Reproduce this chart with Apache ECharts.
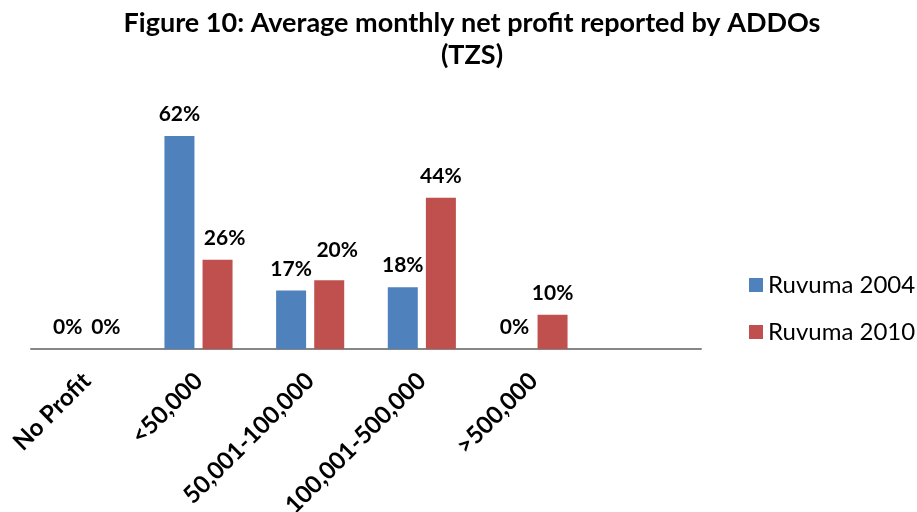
<!DOCTYPE html>
<html>
<head>
<meta charset="utf-8">
<script src="https://cdn.jsdelivr.net/npm/echarts@6/dist/echarts.min.js"></script>
<style>html,body{margin:0;padding:0;background:#fff;}#c{width:917px;height:512px;}</style>
</head>
<body>
<div id="c"></div>
<script>
const categories = ['No Profit', '<50,000', '50,001-100,000', '100,001-500,000', '>500,000', ''];
const ruvuma2004 = [0, 62, 17, 18, 0, null];
const ruvuma2010 = [0, 26, 20, 44, 10, null];
const seriesNames = ['Ruvuma 2004', 'Ruvuma 2010'];
const titleText = 'Figure 10: Average monthly net profit reported by ADDOs\n(TZS)';

const font = 'Lato';
const labelCfg = {
  show: true, position: 'top', distance: 11,
  formatter: p => p.value + '%',
  fontFamily: font, fontWeight: 'bold', fontSize: 21, color: '#000'
};
// labels that were nudged aside in the original chart
const labelNudge2010 = { 1: [7, 0], 2: [8, -9] };
const data2010 = ruvuma2010.map((v, i) =>
  labelNudge2010[i] ? { value: v, label: { offset: labelNudge2010[i] } } : v);

const chart = echarts.init(document.getElementById('c'));
chart.setOption({
  animation: false,
  backgroundColor: '#fff',
  title: {
    text: titleText, left: 467, top: 2, textAlign: 'center',
    textStyle: { fontFamily: font, fontWeight: 'bold', fontSize: 27, lineHeight: 32, color: '#000' }
  },
  legend: {
    orient: 'vertical', left: 744, top: 268, itemWidth: 14, itemHeight: 14, itemGap: 23,
    icon: 'rect',
    textStyle: { fontFamily: font, fontSize: 24, color: '#000', padding: [0, 0, 0, 0] },
    data: seriesNames
  },
  grid: { left: 31, right: 216, top: 108.5, bottom: 163, containLabel: false, outerBoundsMode: 'none' },
  xAxis: {
    type: 'category', data: categories,
    axisLine: { lineStyle: { color: '#868686', width: 2 } },
    axisTick: { show: false },
    axisLabel: { rotate: 45, interval: 0, margin: 28, fontFamily: font, fontWeight: 'bold', fontSize: 24, color: '#000' }
  },
  yAxis: {
    type: 'value', min: 0, max: 70, show: false, splitLine: { show: false }
  },
  series: [
    { name: seriesNames[0], type: 'bar', data: ruvuma2004, barWidth: 30, barGap: '27%', itemStyle: { color: '#4F81BD' }, label: labelCfg },
    { name: seriesNames[1], type: 'bar', data: data2010, barWidth: 30, barGap: '27%', itemStyle: { color: '#C0504D' }, label: labelCfg }
  ]
});
</script>
</body>
</html>
